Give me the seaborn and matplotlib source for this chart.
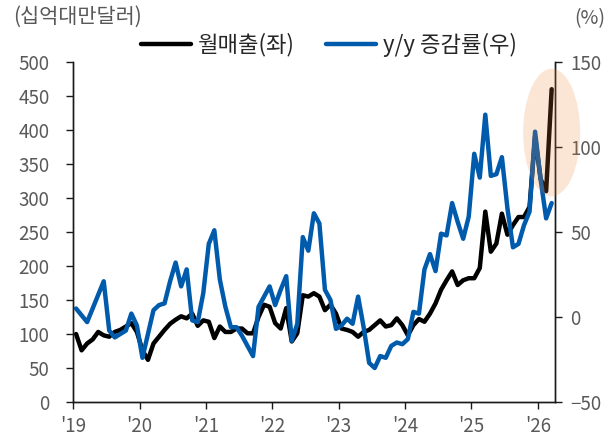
import numpy as np
import pandas as pd
import matplotlib
matplotlib.use('Agg')
import matplotlib.pyplot as plt
from matplotlib.patches import Ellipse
from matplotlib.lines import Line2D
import seaborn as sns

# ── Данные ────────────────────────────────────────────────────────────────────
# месяцы: янв 2019 ... мар 2026
months = pd.date_range('2019-01-01', '2026-03-01', freq='MS')

# месячная выручка, 십억대만달러 (левая ось)
sales = [100, 76, 86, 92, 103, 98, 96, 103, 106, 111, 116, 103,
         76, 62, 86, 96, 106, 115, 121, 126, 123, 130, 112, 120,
         118, 94, 111, 103, 103, 108, 108, 101, 101, 125, 143, 140,
         116, 108, 138, 89, 101, 157, 155, 160, 155, 135, 143, 130,
         108, 106, 103, 96, 103, 106, 113, 120, 111, 113, 123, 113,
         98, 113, 122, 118, 130, 145, 165, 179, 192, 172, 179, 182,
         182, 197, 280, 221, 233, 277, 246, 260, 272, 272, 287,
         390, 328, 310, 460]

# рост г/г, % (правая ось)
yoy = [5, 1, -3, 5, 13, 21, -8, -12, -10, -8, 2, -5,
       -24, -10, 4, 7, 8, 21, 32, 18, 28, -2, -3, 14,
       43, 51, 22, 6, -6, -6, -11, -17, -23, 6, 12, 18,
       7, 16, 24, -14, -4, 47, 39, 61, 55, 16, 10, -7,
       -5, -1, -4, 12, -6, -27, -30, -23, -24, -17, -15, -16,
       -13, 3, 2, 28, 37, 27, 49, 48, 67, 56, 46, 59,
       96, 82, 119, 83, 84, 94, 64, 41, 43, 54, 62,
       109, 81, 58, 67]

year_labels = ["'19", "'20", "'21", "'22", "'23", "'24", "'25", "'26"]
left_ticks = list(range(0, 501, 50))
right_ticks = list(range(-50, 151, 50))

SALES_LABEL = '월매출(좌)'
YOY_LABEL = 'y/y 증감률(우)'
BLACK = '#000000'
BLUE = '#005BAC'
GREY = '#595959'

df = pd.DataFrame({'idx': np.arange(len(months)), 'sales': sales, 'yoy': yoy})

sns.set_style('white')
plt.rcParams['font.family'] = ['Noto Sans CJK KR', 'DejaVu Sans']

fig = plt.figure(figsize=(6.07, 4.44), dpi=100)
ax = fig.add_axes([0.1203, 0.0946, 0.7940, 0.7658])
ax2 = ax.twinx()

sns.lineplot(data=df, x='idx', y='sales', ax=ax, color=BLACK, lw=3.2)
sns.lineplot(data=df, x='idx', y='yoy', ax=ax2, color=BLUE, lw=3.2)

# выделение последних месяцев (выходит за правую ось)
ell = Ellipse((len(months) - 1, 108.5), width=10.3, height=75,
              facecolor='#ED7D31', alpha=0.2, edgecolor='none', zorder=5,
              clip_on=False)
ax2.add_patch(ell)

ax.set_xlim(-0.55, len(months) - 0.4)
ax.set_ylim(0, 500)
ax2.set_ylim(-50, 150)

ax.set_xticks(np.arange(len(year_labels)) * 12 - 0.5)
ax.set_xticklabels(year_labels)
ax.set_yticks(left_ticks)
ax2.set_yticks(right_ticks)
ax.set_xlabel('')
ax.set_ylabel('')
ax2.set_ylabel('')

for a in (ax, ax2):
    a.spines['top'].set_visible(False)
    for s in ('left', 'right', 'bottom'):
        a.spines[s].set_color('#1a1a1a')
        a.spines[s].set_linewidth(1.0)
    a.tick_params(colors=GREY, labelsize=13.5, length=5, width=1.0)
ax.tick_params(axis='y', direction='out', left=True, pad=12, color='#1a1a1a')
ax.tick_params(axis='x', direction='out', bottom=True, pad=5, color='#1a1a1a')
ax2.tick_params(axis='y', direction='out', right=True, pad=6, color='#1a1a1a')

fig.text(0.022, 0.962, '(십억대만달러)', fontsize=15, color=GREY, va='center', ha='left')
fig.text(0.997, 0.958, '(%)', fontsize=14, color=GREY, va='center', ha='right')

handles = [Line2D([], [], color=BLACK, lw=3.2), Line2D([], [], color=BLUE, lw=3.2)]
fig.legend(handles, [SALES_LABEL, YOY_LABEL], loc='center', ncol=2,
           bbox_to_anchor=(0.542, 0.899), frameon=False, fontsize=16,
           handlelength=2.25, handletextpad=0.3, columnspacing=1.4)

plt.savefig('out.png', dpi=100)
